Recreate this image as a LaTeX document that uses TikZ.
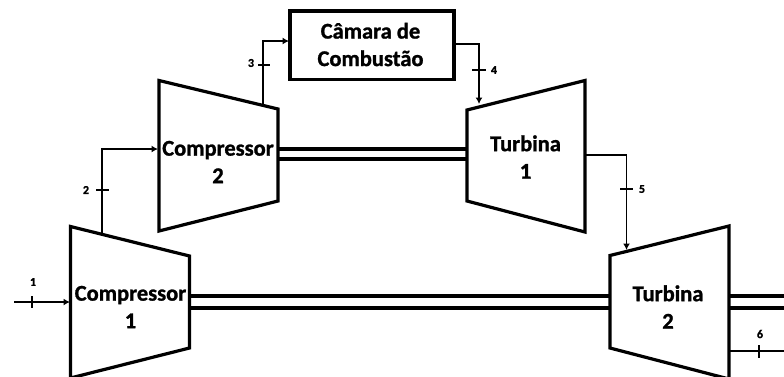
\documentclass[tikz,border=0pt]{standalone}
\usepackage{fontspec}
\setmainfont[BoldFeatures={FakeBold=1.2}]{Carlito}
\usetikzlibrary{arrows.meta}
\tikzset{
  machine/.style={draw=black,line width=3.2pt,line join=miter,fill=white},
  shaft/.style={draw=black,line width=3.2pt},
  flow/.style={draw=black,line width=1.5pt},
  flowarrow/.style={flow,-{Latex[length=6.5pt,width=7pt]}},
  tick/.style={draw=black,line width=1.4pt},
  title/.style={font=\fontsize{22.5}{27.5}\selectfont\bfseries,align=center,inner sep=0pt,text=black},
  statenum/.style={font=\fontsize{12}{14}\selectfont\bfseries,inner sep=0pt,text=black}
}
\begin{document}
\begin{tikzpicture}[x=1pt,y=-1pt]
\useasboundingbox (0,0) rectangle (784,376);
\clip (0,0) rectangle (784,376);
% shafts
\coordinate (s1a) at (278,149); \coordinate (s1b) at (467,149);
\coordinate (s2a) at (278,159); \coordinate (s2b) at (467,159);
\coordinate (s3a) at (190,296); \coordinate (s3b) at (610,296);
\coordinate (s4a) at (190,308); \coordinate (s4b) at (610,308);
\coordinate (s5a) at (729,296); \coordinate (s5b) at (784,296);
\coordinate (s6a) at (729,308); \coordinate (s6b) at (784,308);
\draw[shaft] (s1a) -- (s1b);
\draw[shaft] (s2a) -- (s2b);
\draw[shaft] (s3a) -- (s3b);
\draw[shaft] (s4a) -- (s4b);
\draw[shaft] (s5a) -- (s5b);
\draw[shaft] (s6a) -- (s6b);
% machines
\draw[machine] (70.5,226.5) -- (189.5,256) -- (189.5,348) -- (70.5,378) -- cycle;
\draw[machine] (159,80.5) -- (278,109) -- (278,201) -- (159,231) -- cycle;
\draw[machine] (467,110) -- (585,80.5) -- (585,232) -- (467,201) -- cycle;
\draw[machine] (610,255.5) -- (729,226) -- (729,379) -- (610,348) -- cycle;
\node[draw=black,line width=3.2pt,minimum width=164pt,minimum height=68.5pt,inner sep=0pt,anchor=north west,outer sep=0pt] (cc) at (290,11) {};
% text
\node[title] (c1) at (130.5,307) {Compressor\\1};
\node[title] (c2) at (218,162) {Compressor\\2};
\node[title] (t1) at (525.5,157) {Turbina\\1};
\node[title] (t2) at (668,307) {Turbina\\2};
\node[title] (cct) at (370.5,44.5) {Câmara de\\Combustão};
% state labels
\node[statenum] (n1) at (33,282) {1};
\node[statenum] (n2) at (86,190) {2};
\node[statenum] (n3) at (251,63) {3};
\node[statenum] (n4) at (494,70) {4};
\node[statenum] (n5) at (642,189) {5};
\node[statenum] (n6) at (760,334) {6};
% flows
\coordinate (f1) at (14,302); \coordinate (f1e) at (70,302);
\draw[flowarrow] (f1) -- (f1e);
\coordinate (f2) at (102,234); \coordinate (f2e) at (158,149);
\draw[flowarrow] (f2) |- (f2e);
\coordinate (f3) at (263,106); \coordinate (f3e) at (289,41);
\draw[flowarrow] (f3) |- (f3e);
\coordinate (f4) at (456,44); \coordinate (f4e) at (479,104);
\draw[flowarrow] (f4) -| (f4e);
\coordinate (f5) at (585,155); \coordinate (f5e) at (626.5,250);
\draw[flowarrow] (f5) -| (f5e);
\coordinate (f6) at (729,351); \coordinate (f6e) at (784,351);
\draw[flow] (f6) -- (f6e);
% ticks
\draw[tick] (32,296) -- (32,308);
\draw[tick] (96,190) -- (109,190);
\draw[tick] (258,65) -- (270,65);
\draw[tick] (472,70) -- (486,70);
\draw[tick] (620,189) -- (633,189);
\draw[tick] (759,345) -- (759,358);
\end{tikzpicture}
\end{document}
